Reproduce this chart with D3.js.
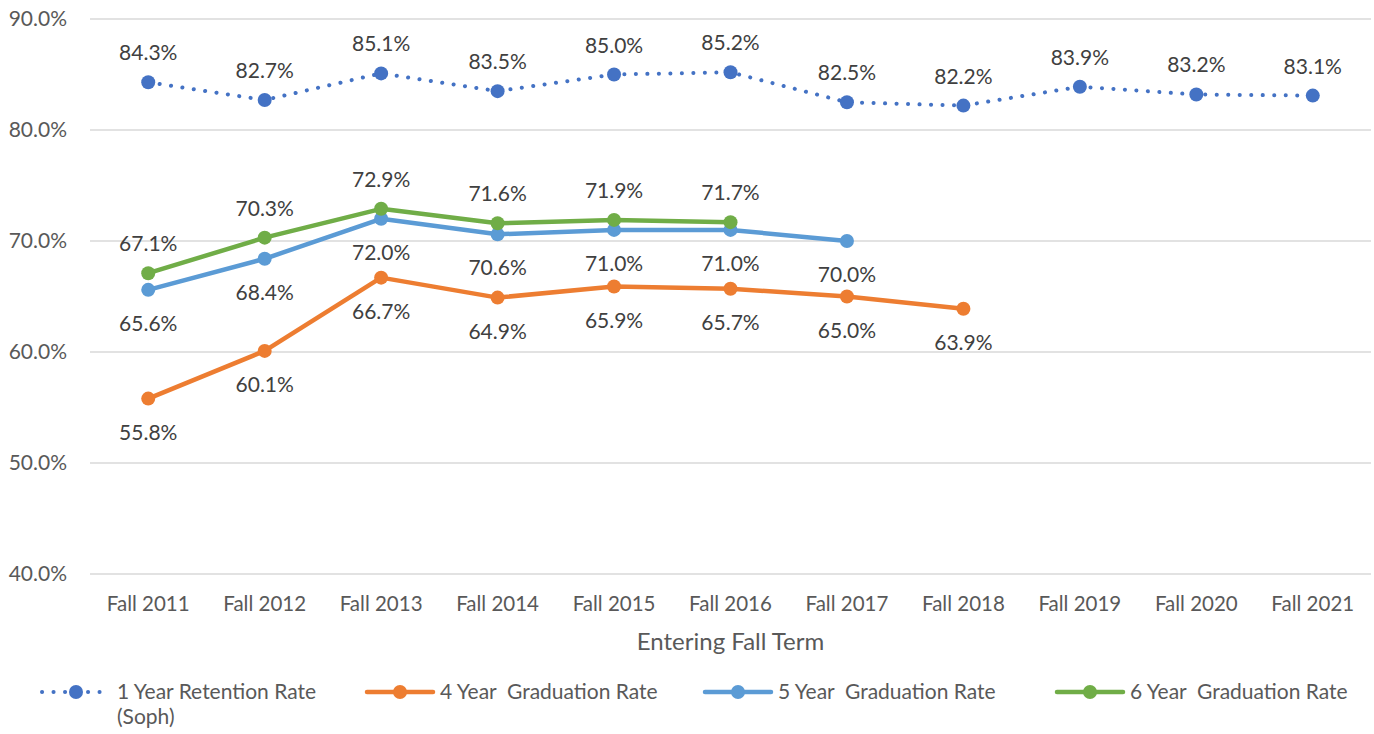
<!DOCTYPE html>
<html>
<head>
<meta charset="utf-8">
<script src="https://cdn.jsdelivr.net/npm/d3@7"></script>
<style>
  body { margin: 0; background: #fff; }
  text { font-family: Lato, "Open Sans", sans-serif; white-space: pre; }
</style>
</head>
<body>
<div id="app"></div>
<script>
const terms = ["Fall 2011", "Fall 2012", "Fall 2013", "Fall 2014", "Fall 2015", "Fall 2016",
  "Fall 2017", "Fall 2018", "Fall 2019", "Fall 2020", "Fall 2021"];
const retention = [84.3, 82.7, 85.1, 83.5, 85.0, 85.2, 82.5, 82.2, 83.9, 83.2, 83.1];
const grad4 = [55.8, 60.1, 66.7, 64.9, 65.9, 65.7, 65.0, 63.9];
const grad5 = [65.6, 68.4, 72.0, 70.6, 71.0, 71.0, 70.0];
const grad6 = [67.1, 70.3, 72.9, 71.6, 71.9, 71.7];
const yTicks = [40, 50, 60, 70, 80, 90];

const width = 1374, height = 734;
const margin = { top: 19, right: 3, bottom: 160, left: 90 };

// series: name, values, colour, dotted?, label side
const series = [
  { name: ["1 Year Retention Rate", "(Soph)"], values: retention, color: "#4472C4", dotted: true, labelAbove: true },
  { name: ["4 Year  Graduation Rate"], values: grad4, color: "#ED7D31", dotted: false, labelAbove: false },
  { name: ["5 Year  Graduation Rate"], values: grad5, color: "#5B9BD5", dotted: false, labelAbove: false },
  { name: ["6 Year  Graduation Rate"], values: grad6, color: "#70AD47", dotted: false, labelAbove: true }
];

const x = d3.scaleBand().domain(terms).range([margin.left, width - margin.right]);
const y = d3.scaleLinear().domain([40, 90]).range([574, margin.top]);
const cx = (i) => x(terms[i]) + x.bandwidth() / 2;

const svg = d3.select("#app").append("svg").attr("width", width).attr("height", height);

// gridlines
svg.append("g")
  .selectAll("line")
  .data(yTicks)
  .join("line")
  .attr("x1", margin.left)
  .attr("x2", width - margin.right)
  .attr("y1", d => y(d))
  .attr("y2", d => y(d))
  .attr("stroke", "#d9d9d9")
  .attr("stroke-width", 1.3);

// y tick labels
svg.append("g")
  .selectAll("text")
  .data(yTicks)
  .join("text")
  .attr("x", 67)
  .attr("y", d => y(d) + 7)
  .attr("text-anchor", "end")
  .attr("font-size", 21)
  .attr("fill", "#595959")
  .text(d => d.toFixed(1) + "%");

// x tick labels
svg.append("g")
  .selectAll("text")
  .data(terms)
  .join("text")
  .attr("x", d => x(d) + x.bandwidth() / 2)
  .attr("y", 611)
  .attr("text-anchor", "middle")
  .attr("font-size", 20.5)
  .attr("fill", "#595959")
  .text(d => d);

svg.append("text")
  .attr("x", (margin.left + width - margin.right) / 2)
  .attr("y", 650)
  .attr("text-anchor", "middle")
  .attr("font-size", 24)
  .attr("fill", "#595959")
  .text("Entering Fall Term");

const line = d3.line().x((d, i) => cx(i)).y(d => y(d));

series.forEach(s => {
  const g = svg.append("g");
  g.append("path")
    .attr("d", line(s.values))
    .attr("fill", "none")
    .attr("stroke", s.color)
    .attr("stroke-width", s.dotted ? 4 : 4.5)
    .attr("stroke-linecap", "round")
    .attr("stroke-linejoin", "round")
    .attr("stroke-dasharray", s.dotted ? "0.1 11.4" : null);
  g.selectAll("circle")
    .data(s.values)
    .join("circle")
    .attr("cx", (d, i) => cx(i))
    .attr("cy", d => y(d))
    .attr("r", 7)
    .attr("fill", s.color);
});

// data labels
series.forEach(s => {
  svg.append("g")
    .selectAll("text")
    .data(s.values)
    .join("text")
    .attr("x", (d, i) => cx(i))
    .attr("y", d => y(d) + (s.labelAbove ? -22 : 41))
    .attr("text-anchor", "middle")
    .attr("font-size", 21)
    .attr("fill", "#404040")
    .text(d => d.toFixed(1) + "%");
});

// legend
const legendX = [42, 367, 705, 1057];
const legend = svg.append("g")
  .selectAll("g")
  .data(series)
  .join("g")
  .attr("transform", (d, i) => `translate(${legendX[i]},692)`);

legend.append("line")
  .attr("x1", 0)
  .attr("x2", d => d.dotted ? 63 : 66)
  .attr("stroke", d => d.color)
  .attr("stroke-width", d => d.dotted ? 4 : 4.5)
  .attr("stroke-linecap", "round")
  .attr("stroke-dasharray", d => d.dotted ? "0.1 11.4" : null);

legend.append("circle")
  .attr("cx", d => d.dotted ? 34 : 33)
  .attr("r", 7)
  .attr("fill", d => d.color);

legend.append("text")
  .attr("x", d => d.dotted ? 75 : 73)
  .attr("y", 7)
  .attr("font-size", 21)
  .attr("fill", "#595959")
  .selectAll("tspan")
  .data(d => d.name)
  .join("tspan")
  .attr("x", function () { return d3.select(this.parentNode).attr("x"); })
  .attr("dy", (d, i) => i === 0 ? 0 : 25)
  .text(d => d);
</script>
</body>
</html>
